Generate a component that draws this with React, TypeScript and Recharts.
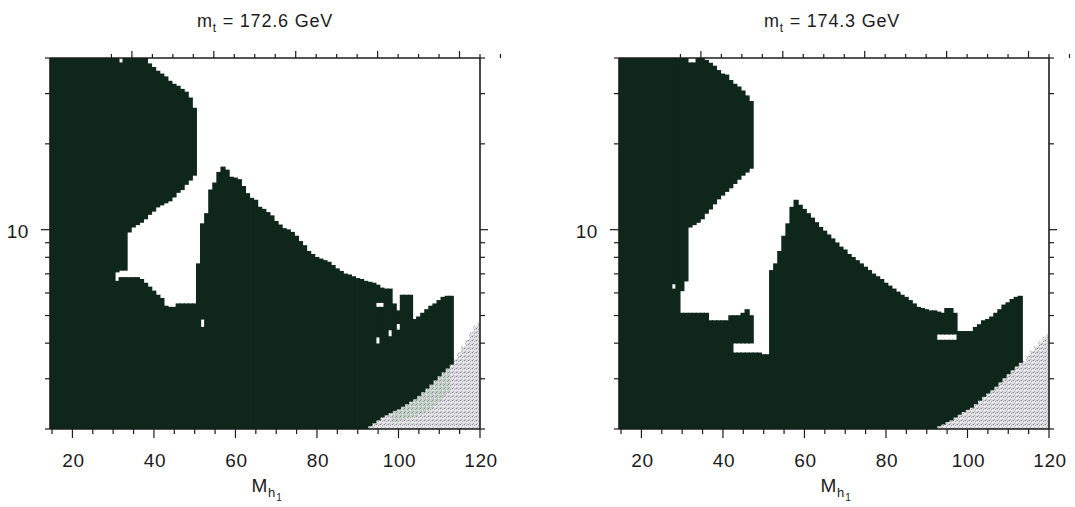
import { ComposedChart, Bar, XAxis, YAxis } from 'recharts';

// [mass of h1, lower edge, upper edge] for one column of the scan grid
type Cell = [number, number, number];

const X_TICKS = [15, 20, 25, 30, 35, 40, 45, 50, 55, 60, 65, 70, 75, 80, 85, 90, 95, 100, 105, 110, 115, 120];
const X_LABELS = [20, 40, 60, 80, 100, 120];
const Y_TICKS = [2, 3, 4, 5, 6, 7, 8, 9, 10, 20, 30, 40];
const Y_LABELS = [10];

// m_t = 172.6 GeV
const LEFT_BASE: Cell[] = [
  [15, 2, 40], [16, 2, 40], [17, 2, 40], [18, 2, 40], [19, 2, 40], [20, 2, 40], [21, 2, 40], [22, 2, 40],
  [23, 2, 40], [24, 2, 40], [25, 2, 40], [26, 2, 40], [27, 2, 40], [28, 2, 40], [29, 2, 40], [30, 2, 40],
  [31, 2, 6.6], [32, 2, 6.8], [33, 2, 6.8], [34, 2, 6.8], [35, 2, 6.8], [36, 2, 6.8], [37, 2, 6.7], [38, 2, 6.5],
  [39, 2, 6.3], [40, 2, 6.1], [41, 2, 5.9], [42, 2, 5.75], [43, 2, 5.4], [44, 2, 5.35], [45, 2, 5.35], [46, 2, 5.5],
  [47, 2, 5.5], [48, 2, 5.5], [49, 2, 5.5], [50, 2, 5.5], [51, 2, 7.6], [52, 2, 4.55], [53, 2, 11.4], [54, 2, 13.8],
  [55, 2, 14.6], [56, 2, 15.9], [57, 2, 16.6], [58, 2, 16.2], [59, 2, 15.3], [60, 2, 15.2], [61, 2, 15.0], [62, 2, 14.2],
  [63, 2, 13.4], [64, 2, 12.9], [65, 2, 12.7], [66, 2, 12.0], [67, 2, 11.8], [68, 2, 11.5], [69, 2, 11.2], [70, 2, 10.7],
  [71, 2, 10.4], [72, 2, 10.1], [73, 2, 10.0], [74, 2, 9.8], [75, 2, 9.5], [76, 2, 9.1], [77, 2, 8.8], [78, 2, 8.4],
  [79, 2, 8.2], [80, 2, 8.0], [81, 2, 7.9], [82, 2, 7.8], [83, 2, 7.7], [84, 2, 7.5], [85, 2, 7.3], [86, 2, 7.15],
  [87, 2, 7.0], [88, 2, 6.95], [89, 2, 6.85], [90, 2, 6.75], [91, 2, 6.7], [92, 2, 6.6], [93, 2.05, 6.55], [94, 2.1, 6.5],
  [95, 2.15, 3.98], [96, 2.2, 5.35], [97, 2.24, 6.2], [98, 2.28, 4.22], [99, 2.32, 5.5], [100, 2.35, 4.45],
  [101, 2.4, 5.9], [102, 2.45, 5.9], [103, 2.5, 5.9], [104, 2.55, 4.85], [105, 2.62, 4.95], [106, 2.7, 5.1],
  [107, 2.78, 5.25], [108, 2.87, 5.4], [109, 2.97, 5.5], [110, 3.07, 5.65], [111, 3.17, 5.8], [112, 3.27, 5.85],
  [113, 3.37, 5.85],
];
const LEFT_MID: Cell[] = [
  [52, 4.85, 10.5], [95, 4.2, 5.35], [96, 5.55, 6.25], [98, 4.45, 6.2], [100, 4.68, 5.2],
];
const LEFT_TOP: Cell[] = [
  [31, 7.1, 40], [32, 7.2, 38.5], [33, 7.2, 40], [34, 9.8, 40], [35, 10.2, 40], [36, 10.4, 40], [37, 10.6, 40],
  [38, 10.9, 40], [39, 11.3, 38.2], [40, 11.6, 37.1], [41, 12.0, 36], [42, 12.2, 35.2], [43, 12.4, 34.4],
  [44, 12.6, 33.2], [45, 13.0, 32.4], [46, 13.5, 31.9], [47, 13.8, 31.1], [48, 14.4, 30.4], [49, 14.9, 29.0],
  [50, 15.5, 26.7], [95, 5.55, 6.4],
];
const LEFT_HAZE: Cell[] = [
  [93, 2, 2.05], [94, 2, 2.1], [95, 2, 2.15], [96, 2, 2.2], [97, 2, 2.24], [98, 2, 2.28], [99, 2, 2.32],
  [100, 2, 2.35], [101, 2, 2.4], [102, 2, 2.45], [103, 2, 2.5], [104, 2, 2.55], [105, 2, 2.62], [106, 2, 2.7],
  [107, 2, 2.78], [108, 2, 2.87], [109, 2, 2.97], [110, 2, 3.07], [111, 2, 3.17], [112, 2, 3.27], [113, 2, 3.37],
  [114, 2, 3.5], [115, 2, 3.7], [116, 2, 3.9], [117, 2, 4.1], [118, 2, 4.35], [119, 2, 4.6], [120, 2, 4.7],
];
const LEFT_TINT: Cell[] = [
  [99, 2.12, 2.32], [100, 2.14, 2.35], [101, 2.16, 2.4], [102, 2.18, 2.45], [103, 2.2, 2.5], [104, 2.22, 2.55],
  [105, 2.25, 2.62], [106, 2.28, 2.7], [107, 2.32, 2.78], [108, 2.36, 2.87], [109, 2.42, 2.97], [110, 2.5, 3.07],
  [111, 2.6, 3.17], [112, 2.7, 3.27],
];

// m_t = 174.3 GeV
const RIGHT_BASE: Cell[] = [
  [15, 2, 40], [16, 2, 40], [17, 2, 40], [18, 2, 40], [19, 2, 40], [20, 2, 40], [21, 2, 40], [22, 2, 40],
  [23, 2, 40], [24, 2, 40], [25, 2, 40], [26, 2, 40], [27, 2, 40], [28, 2, 6.2], [29, 2, 40], [30, 2, 5.1],
  [31, 2, 5.1], [32, 2, 5.1], [33, 2, 5.1], [34, 2, 5.1], [35, 2, 5.1], [36, 2, 5.1], [37, 2, 4.8], [38, 2, 4.8],
  [39, 2, 4.8], [40, 2, 4.8], [41, 2, 4.8], [42, 2, 5.0], [43, 2, 3.7], [44, 2, 3.7], [45, 2, 3.7], [46, 2, 3.7],
  [47, 2, 3.7], [48, 2, 3.7], [49, 2, 3.7], [50, 2, 3.65], [51, 2, 3.65], [52, 2, 7.2], [53, 2, 7.6], [54, 2, 8.4],
  [55, 2, 9.5], [56, 2, 10.5], [57, 2, 12.0], [58, 2, 12.7], [59, 2, 12.2], [60, 2, 11.8], [61, 2, 11.4], [62, 2, 11.0],
  [63, 2, 10.6], [64, 2, 10.2], [65, 2, 9.9], [66, 2, 9.6], [67, 2, 9.3], [68, 2, 9.0], [69, 2, 8.7], [70, 2, 8.5],
  [71, 2, 8.2], [72, 2, 8.0], [73, 2, 7.8], [74, 2, 7.6], [75, 2, 7.4], [76, 2, 7.2], [77, 2, 7.0], [78, 2, 6.85],
  [79, 2, 6.7], [80, 2, 6.5], [81, 2, 6.35], [82, 2, 6.2], [83, 2, 6.05], [84, 2, 5.9], [85, 2, 5.8], [86, 2, 5.65],
  [87, 2, 5.5], [88, 2, 5.35], [89, 2, 5.3], [90, 2, 5.25], [91, 2, 5.2], [92, 2, 5.2], [93, 2.05, 4.1], [94, 2.08, 4.1],
  [95, 2.12, 4.1], [96, 2.15, 4.1], [97, 2.2, 4.1], [98, 2.25, 4.4], [99, 2.3, 4.4], [100, 2.34, 4.4],
  [101, 2.38, 4.4], [102, 2.45, 4.55], [103, 2.52, 4.65], [104, 2.6, 4.8], [105, 2.67, 4.85], [106, 2.74, 4.95],
  [107, 2.82, 5.1], [108, 2.92, 5.25], [109, 3.02, 5.45], [110, 3.12, 5.55], [111, 3.22, 5.7], [112, 3.32, 5.8],
  [113, 3.42, 5.85],
];
const RIGHT_MID: Cell[] = [
  [43, 4.0, 5.0], [44, 4.0, 5.0], [45, 4.0, 5.1], [46, 4.0, 5.25], [47, 4.0, 5.0],
  [93, 4.3, 5.15], [94, 4.3, 5.1], [95, 4.3, 5.3], [96, 4.3, 5.3], [97, 4.3, 5.1],
];
const RIGHT_TOP: Cell[] = [
  [28, 6.45, 40], [30, 6.1, 40], [31, 6.6, 40], [32, 10.2, 38.5], [33, 10.4, 38.5], [34, 10.6, 40], [35, 10.9, 40],
  [36, 11.4, 39.3], [37, 11.8, 38.4], [38, 12.3, 37.5], [39, 12.8, 36.2], [40, 13.2, 35.2], [41, 13.6, 34.9],
  [42, 14.0, 33.4], [43, 14.5, 32.4], [44, 15.0, 31.7], [45, 15.5, 30.7], [46, 15.9, 29.5], [47, 16.4, 28.2],
];
const RIGHT_HAZE: Cell[] = [
  [93, 2, 2.05], [94, 2, 2.08], [95, 2, 2.12], [96, 2, 2.15], [97, 2, 2.2], [98, 2, 2.25], [99, 2, 2.3],
  [100, 2, 2.34], [101, 2, 2.38], [102, 2, 2.45], [103, 2, 2.52], [104, 2, 2.6], [105, 2, 2.67], [106, 2, 2.74],
  [107, 2, 2.82], [108, 2, 2.92], [109, 2, 3.02], [110, 2, 3.12], [111, 2, 3.22], [112, 2, 3.32], [113, 2, 3.42],
  [114, 2, 3.45], [115, 2, 3.6], [116, 2, 3.75], [117, 2, 3.9], [118, 2, 4.05], [119, 2, 4.2], [120, 2, 4.3],
];

const DARK = '#0f261a';
const INK = '#1c1c1c';
const FONT = '"Liberation Sans", Arial, Helvetica, sans-serif';

type Row = { mass: number; [band: string]: number | [number, number] };

function buildRows(bands: Record<string, Cell[]>): Row[] {
  const rows = new Map<number, Row>();
  for (const [key, cells] of Object.entries(bands)) {
    for (const [m, lo, hi] of cells) {
      const row = rows.get(m) ?? { mass: m };
      row[key] = [lo, hi];
      rows.set(m, row);
    }
  }
  return [...rows.values()].sort((a, b) => a.mass - b.mass);
}

// widen each cell a little so neighbouring columns don't leave hairline seams
function cellShape(fill: string) {
  return (p: any) => {
    if (!(p.height > 0) || !(p.width > 0)) return <g />;
    return <rect x={p.x - 0.6} y={p.y - 0.3} width={p.width + 1.2} height={p.height + 0.6} fill={fill} />;
  };
}

function BottomTick({ x, y, payload }: any) {
  const major = X_LABELS.includes(payload.value);
  return (
    <g>
      <line x1={x} y1={y} x2={x} y2={y + (major ? 9 : 5)} stroke={INK} strokeWidth={1.2} />
      {major && (
        <text x={x + 1} y={y + 38} textAnchor="middle" fontSize={19} fontFamily={FONT} letterSpacing={0.6} fill={INK}>
          {payload.value}
        </text>
      )}
    </g>
  );
}

function TopTick({ x, y, payload }: any) {
  const major = X_LABELS.includes(payload.value);
  return <line x1={x} y1={y} x2={x} y2={y - (major ? 7 : 4)} stroke={INK} strokeWidth={1.2} />;
}

function LeftTick({ x, y, payload }: any) {
  const major = Y_LABELS.includes(payload.value);
  return (
    <g>
      <line x1={x} y1={y} x2={x - (major ? 9 : 5)} y2={y} stroke={INK} strokeWidth={1.2} />
      {major && (
        <text x={x - 21} y={y + 8} textAnchor="end" fontSize={19} fontFamily={FONT} letterSpacing={0.6} fill={INK}>
          {payload.value}
        </text>
      )}
    </g>
  );
}

function RightTick({ x, y, payload }: any) {
  const major = Y_LABELS.includes(payload.value);
  return <line x1={x} y1={y} x2={x + (major ? 8 : 5)} y2={y} stroke={INK} strokeWidth={1.2} />;
}

interface PanelProps {
  base: Cell[];
  mid: Cell[];
  top: Cell[];
  haze: Cell[];
  tint: Cell[];
  id: string;
  width: number;
  rightMargin: number;
}

function Panel({ base, mid, top, haze, tint, id, width, rightMargin }: PanelProps) {
  const data = buildRows({ base, mid, top, haze, tint });
  const axisLine = { stroke: INK, strokeWidth: 1.6 };
  return (
    <ComposedChart
      width={width}
      height={507}
      data={data}
      margin={{ top: 57, left: 49, right: rightMargin - 1, bottom: 77 }}
      barCategoryGap={0}
      barGap="-100%"
    >
      <defs>
        <pattern id={`haze-${id}`} width={4} height={4} patternUnits="userSpaceOnUse">
          <rect width={4} height={4} fill="#dedde2" />
          <rect x={0} y={0} width={1} height={1} fill="#7f7d86" />
          <rect x={2} y={1} width={1} height={1} fill="#9e9ca4" />
          <rect x={1} y={3} width={1} height={1} fill="#b0aeb6" />
          <rect x={3} y={2} width={1} height={1} fill="#ffffff" />
          <rect x={1} y={1} width={1} height={1} fill="#f6f5f8" />
          <rect x={3} y={0} width={1} height={1} fill="#c2c0c8" />
        </pattern>
        <pattern id={`tint-${id}`} width={4} height={4} patternUnits="userSpaceOnUse">
          <rect width={4} height={4} fill="#c6d1c9" />
          <rect x={0} y={0} width={1} height={1} fill="#78907e" />
          <rect x={2} y={2} width={1} height={1} fill="#eef1ef" />
          <rect x={3} y={1} width={1} height={1} fill="#94a698" />
          <rect x={1} y={3} width={1} height={1} fill="#a4a3aa" />
        </pattern>
      </defs>
      <XAxis
        xAxisId="b"
        dataKey="mass"
        type="number"
        domain={[14.5, 120]}
        ticks={X_TICKS}
        interval={0}
        allowDataOverflow
        height={1}
        tickSize={0}
        tickMargin={0}
        tickLine={false}
        axisLine={axisLine}
        tick={(p: any) => <BottomTick {...p} />}
      />
      <XAxis
        xAxisId="t"
        orientation="top"
        type="number"
        domain={[14.5, 120]}
        ticks={X_TICKS}
        interval={0}
        allowDataOverflow
        height={1}
        tickSize={0}
        tickMargin={0}
        tickLine={false}
        axisLine={axisLine}
        tick={(p: any) => <TopTick {...p} />}
      />
      <YAxis
        yAxisId="l"
        type="number"
        scale="log"
        domain={[2, 40]}
        ticks={Y_TICKS}
        interval={0}
        allowDataOverflow
        width={1}
        tickSize={0}
        tickMargin={0}
        tickLine={false}
        axisLine={axisLine}
        tick={(p: any) => <LeftTick {...p} />}
      />
      <YAxis
        yAxisId="r"
        orientation="right"
        type="number"
        scale="log"
        domain={[2, 40]}
        ticks={Y_TICKS}
        interval={0}
        allowDataOverflow
        width={1}
        tickSize={0}
        tickMargin={0}
        tickLine={false}
        axisLine={axisLine}
        tick={(p: any) => <RightTick {...p} />}
      />
      <Bar xAxisId="b" yAxisId="l" dataKey={(r: Row) => r.haze} shape={cellShape(`url(#haze-${id})`)} isAnimationActive={false} />
      <Bar xAxisId="b" yAxisId="l" dataKey={(r: Row) => r.tint} shape={cellShape(`url(#tint-${id})`)} isAnimationActive={false} />
      <Bar xAxisId="b" yAxisId="l" dataKey={(r: Row) => r.base} shape={cellShape(DARK)} isAnimationActive={false} />
      <Bar xAxisId="b" yAxisId="l" dataKey={(r: Row) => r.mid} shape={cellShape(DARK)} isAnimationActive={false} />
      <Bar xAxisId="b" yAxisId="l" dataKey={(r: Row) => r.top} shape={cellShape(DARK)} isAnimationActive={false} />
    </ComposedChart>
  );
}

const textStyle = { position: 'absolute' as const, fontFamily: FONT, fontSize: 18, color: INK, letterSpacing: 0.8, lineHeight: '22px', whiteSpace: 'nowrap' as const, textAlign: 'center' as const };

function Title({ cx, mass }: { cx: number; mass: string }) {
  return (
    <div style={{ ...textStyle, left: cx - 150, top: 10, width: 300 }}>
      m<span style={{ fontSize: 12, position: 'relative', top: 5 }}>t</span> = {mass} GeV
    </div>
  );
}

function XLabel({ cx }: { cx: number }) {
  return (
    <div style={{ ...textStyle, fontSize: 19, left: cx - 60, top: 475, width: 120 }}>
      M<span style={{ fontSize: 13, position: 'relative', top: 5 }}>h<span style={{ fontSize: 10, position: 'relative', top: 4 }}>1</span></span>
    </div>
  );
}

export default function App() {
  return (
    <div style={{ position: 'absolute', left: 0, top: 0, width: 1075, height: 507, overflow: 'hidden', background: '#fff' }}>
      <div style={{ position: 'absolute', left: 0, top: 0 }}>
        <Panel base={LEFT_BASE} mid={LEFT_MID} top={LEFT_TOP} haze={LEFT_HAZE} tint={LEFT_TINT} id="a" width={520} rightMargin={40} />
      </div>
      <div style={{ position: 'absolute', left: 569, top: 0 }}>
        <Panel base={RIGHT_BASE} mid={RIGHT_MID} top={RIGHT_TOP} haze={RIGHT_HAZE} tint={[]} id="b" width={506} rightMargin={26} />
      </div>
      <Title cx={265} mass="172.6" />
      <Title cx={832} mass="174.3" />
      <XLabel cx={267} />
      <XLabel cx={836} />
    </div>
  );
}
